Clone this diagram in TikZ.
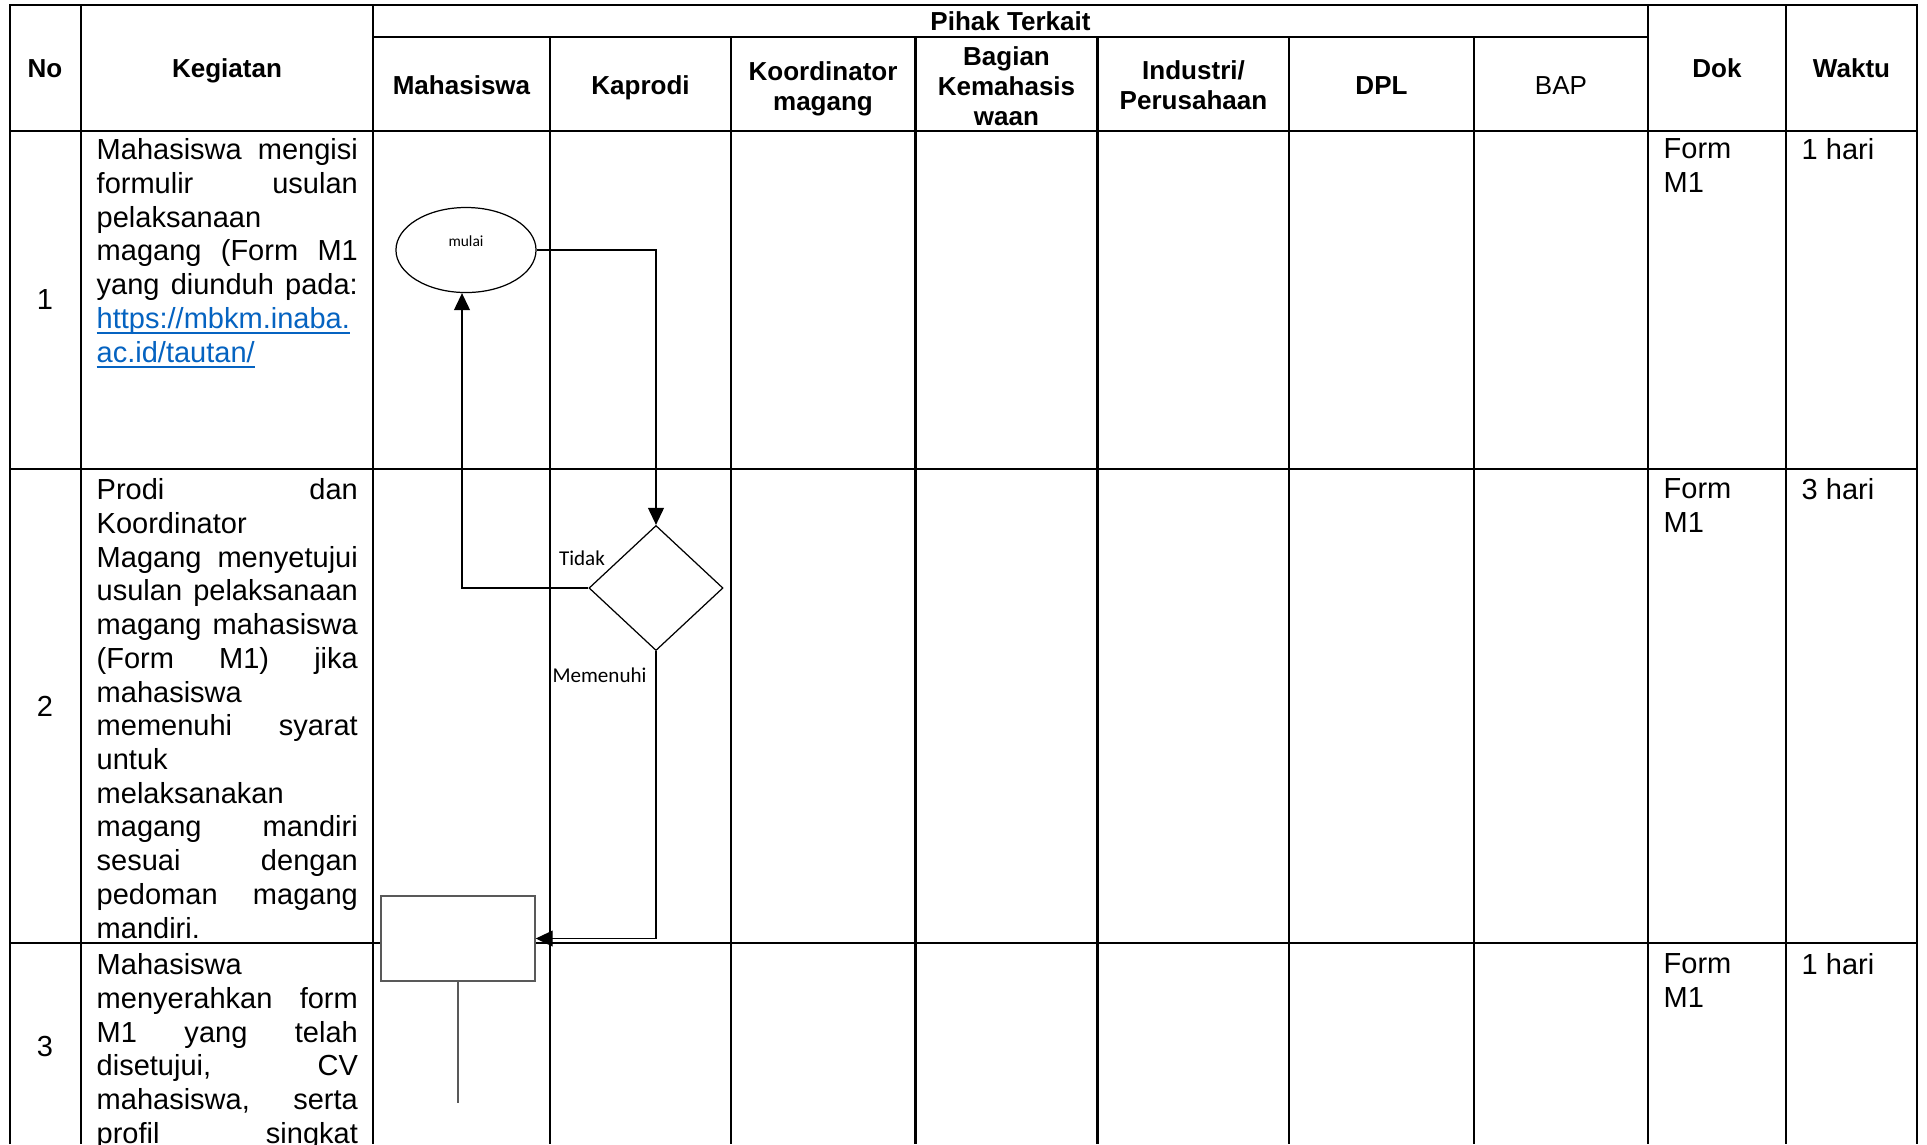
\documentclass[tikz,border=0pt]{standalone}
\usepackage{fontspec}
\setmainfont{Liberation Sans}
\newfontfamily\calfont{Carlito}
\usepackage{xcolor}
\usetikzlibrary{arrows.meta,shapes.geometric}
\definecolor{linkblue}{RGB}{5,99,193}
\definecolor{boxgray}{RGB}{89,89,89}
\newcommand{\bodyfont}{\fontsize{8.25pt}{9.59pt}\selectfont}
\newcommand{\headfont}{\fontsize{7.4pt}{8.54pt}\selectfont\bfseries}
\newcommand{\jl}[1]{\makebox[2.61cm][s]{\spaceskip=0pt\xspaceskip=0pt\relax#1}\\}
\newcommand{\lnk}[1]{\textcolor{linkblue}{\setbox0\hbox{#1}\rlap{\rule[-1.6pt]{\wd0}{0.55pt}}\box0}}

\begin{document}
\begin{tikzpicture}[x=0.01cm, y=-0.01cm,
grid line/.style={line width=0.6pt},
head node/.style={font=\headfont, inner sep=0pt, align=center},
cell node/.style={font=\bodyfont, inner sep=0pt, anchor=north west, align=left},
kegiatan node/.style={cell node, text width=2.61cm, align=justify},
start node/.style={ellipse, draw, line width=0.35pt, fill=white, minimum width=1.40cm, minimum height=0.85cm, inner sep=0pt, font=\calfont\fontsize{4.4pt}{5pt}\selectfont, text height=1.5pt, text depth=3.6pt},
decision node/.style={diamond, draw, line width=0.35pt, fill=white, minimum width=1.34cm, minimum height=1.25cm, inner sep=0pt},
process node/.style={rectangle, draw=boxgray, line width=0.4pt, fill=white, minimum width=1.54cm, minimum height=0.85cm, inner sep=0pt},
flow label/.style={font=\calfont\fontsize{6pt}{7pt}\selectfont, inner sep=0pt},
flow line/.style={line width=0.35pt, -{Triangle[length=4.8pt, width=4.5pt]}}]
\useasboundingbox (0,0) rectangle (1927,1144);
\fill[white] (0,0) rectangle (1927,1144);
\clip (0,0) rectangle (1927,1144);
% table grid
\begin{scope}[grid line]
\draw (10,1144) -- (10,5) -- (1917,5) -- (1917,1144);
\draw (373,37) -- (1648,37);
\draw (10,131) -- (1917,131);
\draw (10,469) -- (1917,469);
\draw (10,943) -- (1917,943);
\draw (81,5) -- (81,1144);
\draw (373,5) -- (373,1144);
\draw (1648,5) -- (1648,1144);
\draw (1786,5) -- (1786,1144);
\draw (550,37) -- (550,1144);
\draw (731,37) -- (731,1144);
\draw (915.5,37) -- (915.5,1144);
\draw (1097.5,37) -- (1097.5,1144);
\draw (1289,37) -- (1289,1144);
\draw (1474,37) -- (1474,1144);
\end{scope}
% header
\node[head node, anchor=base] (hNo) at (45,77.5) {No};
\node[head node, anchor=base] (hKeg) at (227,77.5) {Kegiatan};
\node[head node, anchor=base] (hPihak) at (1010.5,30.5) {Pihak Terkait};
\node[head node, anchor=base] (hMhs) at (461.5,94) {Mahasiswa};
\node[head node, anchor=base] (hKaprodi) at (640.5,94) {Kaprodi};
\node[head node, anchor=north] (hKoord) at (823,60.5) {Koordinator\\magang};
\node[head node, anchor=north] (hBagian) at (1006.5,45.5) {Bagian\\Kemahasis\\waan};
\node[head node, anchor=north] (hIndustri) at (1193.5,60) {Industri/\\Perusahaan};
\node[head node, anchor=base] (hDPL) at (1381.5,94) {DPL};
\node[head node, anchor=base, font=\headfont\mdseries] (hBAP) at (1561,94) {BAP};
\node[head node, anchor=base] (hDok) at (1717,77.5) {Dok};
\node[head node, anchor=base] (hWaktu) at (1851.5,77.5) {Waktu};
% rows
\node[font=\bodyfont, inner sep=0pt] (no1) at (45,300) {1};
\node[font=\bodyfont, inner sep=0pt] (no2) at (45,706) {2};
\node[font=\bodyfont, inner sep=0pt] (no3) at (45,1046) {3};
\node[kegiatan node] (k1) at (96,138) {\jl{Mahasiswa mengisi}\jl{formulir usulan}pelaksanaan\\\jl{magang (Form M1}\jl{yang diunduh pada:}\lnk{https://mbkm.inaba.}\\\lnk{ac.id/tautan/}};
\node[kegiatan node] (k2) at (96,478) {\jl{Prodi dan}Koordinator\\\jl{Magang menyetujui}\jl{usulan pelaksanaan}\jl{magang mahasiswa}\jl{(Form M1) jika}mahasiswa\\\jl{memenuhi syarat}untuk\\melaksanakan\\\jl{magang mandiri}\jl{sesuai dengan}\jl{pedoman magang}mandiri.};
\node[kegiatan node] (k3) at (96,953) {Mahasiswa\\\jl{menyerahkan form}\jl{M1 yang telah}\jl{disetujui, CV}\jl{mahasiswa, serta}\makebox[2.61cm][s]{\spaceskip=0pt\relax profil singkat}};
\node[cell node] (dok1) at (1663,138) {Form\\M1};
\node[cell node] (dok2) at (1663,478) {Form\\M1};
\node[cell node] (dok3) at (1663,953) {Form\\M1};
\node[cell node] (waktu1) at (1801,138) {1 hari};
\node[cell node] (waktu2) at (1801,478) {3 hari};
\node[cell node] (waktu3) at (1801,953) {1 hari};
% flow
\node[start node] (mulai) at (466,250) {mulai};
\node[decision node] (cek) at (656,588) {};
\node[process node] (kotak) at (458,938.5) {};
\coordinate (ujung) at (458,1103);
\node[flow label] (tidak) at (582,558) {Tidak};
\node[flow label] (memenuhi) at (599.5,675) {Memenuhi};
\draw[flow line] (mulai.east) -| (cek.north);
\draw[flow line] (cek.west) -| ([xshift=-0.04cm]mulai.south);
\draw[flow line] (cek.south) |- (kotak.east);
\draw[line width=0.4pt, draw=boxgray] (kotak.south) -- (ujung);
\end{tikzpicture}
\end{document}
